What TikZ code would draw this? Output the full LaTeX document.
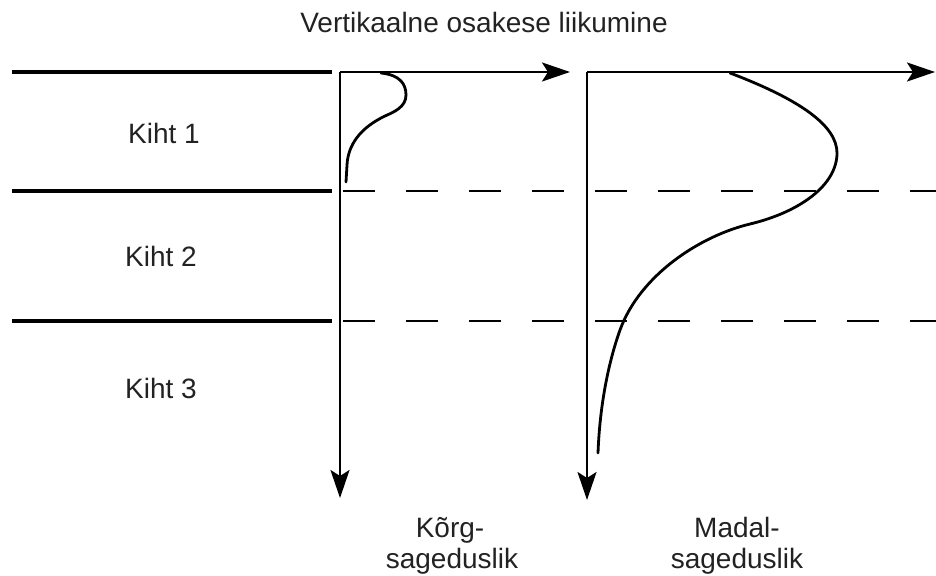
\documentclass[tikz,border=0pt]{standalone}
\usepackage{fontspec}
\setmainfont{Liberation Sans}
\usetikzlibrary{arrows.meta}
\definecolor{txt}{HTML}{222222}
\begin{document}
\begin{tikzpicture}[x=1pt,y=-1pt,
  lbl/.style={anchor=base,inner sep=0pt,text=txt,font=\fontsize{28}{31}\selectfont},
  layer/.style={line width=4.2pt},
  bound/.style={line width=2.8pt,dash pattern=on 32pt off 31pt},
  axis/.style={line width=2.4pt,-{Stealth[length=28pt,width=19pt,inset=6pt]}},
  prof/.style={line width=2.8pt,line cap=round}]
\useasboundingbox (0,0) rectangle (936,575);
% title
\node[lbl] (title) at (484,33) {Vertikaalne osakese liikumine};
% layer labels
\node[lbl] (k1) at (164,143) {Kiht 1};
\node[lbl] (k2) at (161,266) {Kiht 2};
\node[lbl] (k3) at (161,398) {Kiht 3};
% bottom labels
\node[lbl] (hf1) at (450,537) {Kõrg-};
\node[lbl] (hf2) at (452,568) {sageduslik};
\node[lbl] (lf1) at (737,537) {Madal-};
\node[lbl] (lf2) at (737,568) {sageduslik};
% coordinates
\coordinate (a0) at (12,72);  \coordinate (a1) at (332,72);
\coordinate (b0) at (12,191); \coordinate (b1) at (332,191);
\coordinate (c0) at (12,321); \coordinate (c1) at (332,321);
\coordinate (d0) at (343,191); \coordinate (d1) at (936,191);
\coordinate (e0) at (343,321); \coordinate (e1) at (936,321);
\coordinate (o1) at (340,72); \coordinate (x1) at (570,72); \coordinate (y1) at (340,498);
\coordinate (o2) at (587,72); \coordinate (x2) at (935,72); \coordinate (y2) at (587,500);
% layer boundaries
\draw[layer] (a0) -- (a1);
\draw[layer] (b0) -- (b1);
\draw[layer] (c0) -- (c1);
\draw[bound] (d0) -- (d1);
\draw[bound] (e0) -- (e1);
% axes
\draw[axis] (o1) -- (x1);
\draw[axis] (o1) -- (y1);
\draw[axis] (o2) -- (x2);
\draw[axis] (o2) -- (y2);
% profiles
\draw[prof] (381,73) .. controls (400,75) and (406,84) .. (406,95)
  .. controls (406,107) and (394,112) .. (385,116)
  .. controls (360,128) and (348,145) .. (347,165) -- (346,182);
\draw[prof] (730,73) .. controls (801,100) and (837,126) .. (837,153)
  .. controls (837,185) and (800,212) .. (750,224)
  .. controls (700,236) and (640,275) .. (620,330)
  .. controls (610,358) and (600,400) .. (598,453);
\end{tikzpicture}
\end{document}
